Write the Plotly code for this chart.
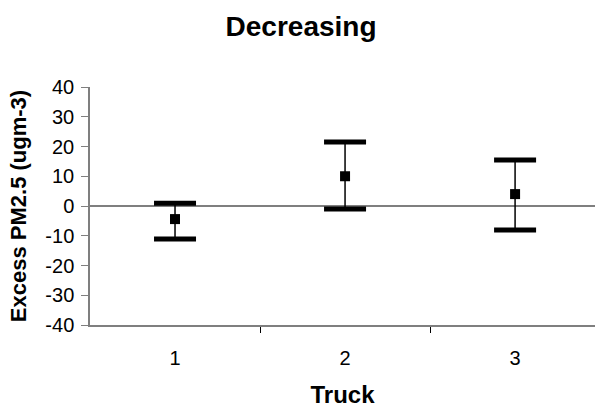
import plotly.graph_objects as go

# Excess PM2.5 per truck (decreasing-speed runs): mean with upper/lower bounds
trucks = [1, 2, 3]
excess_mean = [-4.4, 10.0, 4.0]
bound_upper = [0.9, 21.5, 15.5]
bound_lower = [-11.1, -1.0, -8.1]

y_ticks = [40, 30, 20, 10, 0, -10, -20, -30, -40]

err_plus = [u - m for u, m in zip(bound_upper, excess_mean)]
err_minus = [m - l for m, l in zip(excess_mean, bound_lower)]

FONT = "Arial, Liberation Sans, sans-serif"
AXIS_GREY = "#7f7f7f"

fig = go.Figure()

# error stems + mean markers
fig.add_trace(go.Scatter(
    x=trucks, y=excess_mean, mode="markers",
    marker=dict(symbol="square", size=10, color="black"),
    error_y=dict(type="data", symmetric=False, array=err_plus,
                 arrayminus=err_minus, color="black", thickness=1.5, width=0),
    showlegend=False, hoverinfo="skip",
))

# heavy caps at the bounds
fig.add_trace(go.Scatter(
    x=trucks + trucks, y=bound_upper + bound_lower, mode="markers",
    marker=dict(symbol="line-ew", size=30, color="black",
                line=dict(color="black", width=5)),
    showlegend=False, hoverinfo="skip",
))

fig.update_layout(
    width=595, height=408,
    margin=dict(l=90, r=0, t=87, b=83),
    paper_bgcolor="white", plot_bgcolor="white",
    font=dict(family=FONT, color="black"),
    title=dict(text="<b>Decreasing</b>", x=0.506, xref="container", xanchor="center",
               y=1 - 26 / 408, yref="container", yanchor="middle",
               font=dict(size=28, family=FONT, color="black")),
)

fig.update_xaxes(
    range=[0.5, 3.47], tickvals=trucks, ticktext=[str(t) for t in trucks],
    ticks="", showgrid=False, zeroline=False, automargin=False,
    showline=True, linecolor=AXIS_GREY, linewidth=1.5,
    tickfont=dict(size=20, family=FONT, color="black"),
    ticklabelstandoff=14,
    minor=dict(tickvals=[1.5, 2.5], ticks="outside", ticklen=6,
               tickcolor="black", tickwidth=1, showgrid=False),
    title=dict(text="<b>Truck</b>", font=dict(size=24, family=FONT, color="black"),
               standoff=28),
)

fig.update_yaxes(
    range=[-40, 40], tickvals=y_ticks, ticktext=[str(v) for v in y_ticks],
    ticks="outside", ticklen=7, tickcolor=AXIS_GREY, tickwidth=1,
    showgrid=False, zeroline=True, zerolinecolor=AXIS_GREY, zerolinewidth=2,
    automargin=False,
    showline=True, linecolor=AXIS_GREY, linewidth=1.5,
    tickfont=dict(size=20, family=FONT, color="black"),
    ticklabelstandoff=3,
    title=dict(text="<b>Excess PM2.5 (ugm-3)</b>",
               font=dict(size=22, family=FONT, color="black"), standoff=13),
)

fig.write_html("out.html")
